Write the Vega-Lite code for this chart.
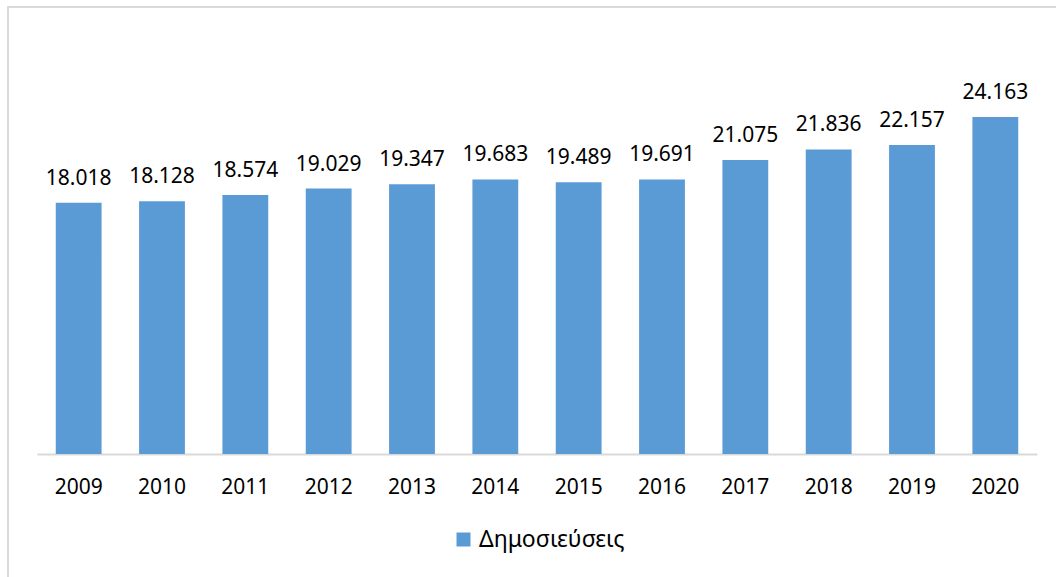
{
  "$schema": "https://vega.github.io/schema/vega-lite/v6.json",
  "autosize": "none",
  "padding": {"left": 8, "top": 7, "right": -12, "bottom": -12},
  "width": 1060,
  "height": 582,
  "background": "white",
  "config": {
    "view": {"stroke": "#d9d9d9", "strokeWidth": 2},
    "locale": {"number": {"decimal": ",", "thousands": ".", "grouping": [3], "currency": ["", " €"]}},
    "font": "Noto Sans"
  },
  "data": {
    "values": [
      {"year": "2009", "value": 18018},
      {"year": "2010", "value": 18128},
      {"year": "2011", "value": 18574},
      {"year": "2012", "value": 19029},
      {"year": "2013", "value": 19347},
      {"year": "2014", "value": 19683},
      {"year": "2015", "value": 19489},
      {"year": "2016", "value": 19691},
      {"year": "2017", "value": 21075},
      {"year": "2018", "value": 21836},
      {"year": "2019", "value": 22157},
      {"year": "2020", "value": 24163}
    ]
  },
  "encoding": {
    "x": {
      "field": "year",
      "type": "ordinal",
      "scale": {"range": [29, 1029], "paddingInner": 0.45, "paddingOuter": 0.225},
      "axis": {
        "title": null,
        "labelAngle": 0,
        "labelFont": "Noto Sans",
        "labelFontSize": 21,
        "labelColor": "#000000",
        "labelBaseline": "alphabetic",
        "labelPadding": 39,
        "ticks": false,
        "tickSize": 0,
        "domainColor": "#d9d9d9",
        "domainWidth": 2,
        "offset": -135
      }
    },
    "y": {
      "field": "value",
      "type": "quantitative",
      "scale": {"domain": [0, 30000], "range": [447, 28.6]},
      "axis": null
    }
  },
  "layer": [
    {
      "mark": {"type": "bar"},
      "encoding": {
        "color": {
          "datum": "Δημοσιεύσεις",
          "scale": {"range": ["#5b9bd5"]},
          "legend": {
            "title": null,
            "orient": "none",
            "legendX": 444,
            "legendY": 521,
            "padding": 0,
            "symbolType": "square",
            "symbolSize": 196,
            "symbolStrokeWidth": 0,
            "labelFont": "Noto Sans",
            "labelFontSize": 23,
            "labelColor": "#000000",
            "labelOffset": 4,
            "labelLimit": 300
          }
        }
      }
    },
    {
      "mark": {"type": "text", "baseline": "alphabetic", "dy": -18, "font": "Noto Sans", "fontSize": 21, "color": "#000000"},
      "encoding": {
        "text": {"field": "value", "type": "quantitative", "format": ",d"}
      }
    }
  ]
}
